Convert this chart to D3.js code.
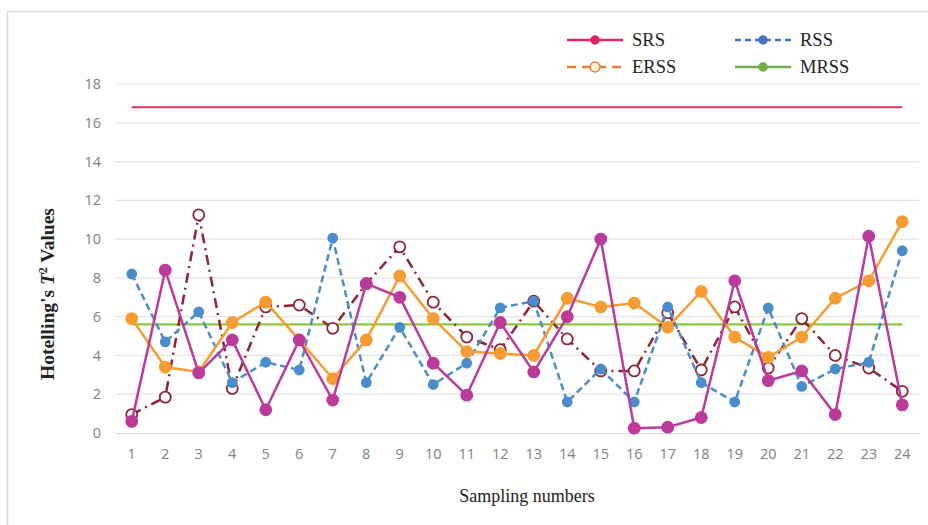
<!DOCTYPE html>
<html><head><meta charset="utf-8">
<script src="https://cdn.jsdelivr.net/npm/d3@7"></script>
<style>body{margin:0;background:#fff}</style>
</head><body>
<svg id="c" width="928" height="525"></svg>
<script>
const samples = d3.range(1, 25);
const yTicks = [0, 2, 4, 6, 8, 10, 12, 14, 16, 18];
const srsLevel = 16.8;
const mrssLevel = 5.6;
const magentaVals = [0.6, 8.4, 3.1, 4.8, 1.2, 4.8, 1.7, 7.7, 7.0, 3.6, 1.95, 5.7, 3.15, 6.0, 10.0, 0.25, 0.3, 0.8, 7.85, 2.7, 3.2, 0.95, 10.15, 1.45];
const blueVals = [8.2, 4.7, 6.25, 2.6, 3.65, 3.25, 10.05, 2.6, 5.45, 2.5, 3.6, 6.45, 6.8, 1.6, 3.3, 1.6, 6.5, 2.6, 1.6, 6.45, 2.4, 3.3, 3.65, 9.4];
const orangeVals = [5.9, 3.4, 3.15, 5.7, 6.75, 4.8, 2.8, 4.8, 8.1, 5.9, 4.2, 4.1, 4.0, 6.95, 6.5, 6.7, 5.45, 7.3, 4.95, 3.9, 4.95, 6.95, 7.85, 10.9];
const maroonVals = [0.95, 1.85, 11.25, 2.3, 6.5, 6.6, 5.4, 7.7, 9.6, 6.75, 4.95, 4.3, 6.8, 4.85, 3.2, 3.2, 6.2, 3.25, 6.5, 3.35, 5.9, 4.0, 3.35, 2.15];
const legendNames = ["SRS", "RSS", "ERSS", "MRSS"];

const svg = d3.select("#c");
// frame
svg.append("rect").attr("x", 7.5).attr("y", 11.5).attr("width", 940).attr("height", 530)
  .attr("fill", "#fff").attr("stroke", "#d9d9d9").attr("stroke-width", 1.5);

const x = d3.scaleBand().domain(samples).range([115, 919]);
const y = d3.scaleLinear().domain([0, 18]).range([433, 84]);
const cx = d => x(d) + x.bandwidth() / 2;

// gridlines
svg.append("g").selectAll("line").data(yTicks.filter(t => t > 0)).join("line")
  .attr("x1", 115).attr("x2", 919).attr("y1", d => y(d)).attr("y2", d => y(d))
  .attr("stroke", "#e3e3e3").attr("stroke-width", 1.2);

// axes
const yAxis = d3.axisLeft(y).tickValues(yTicks).tickSize(0).tickPadding(14);
const gy = svg.append("g").attr("transform", "translate(115,0)").call(yAxis);
gy.select(".domain").remove();
gy.selectAll("text").attr("font-family", "'Open Sans', sans-serif").attr("font-size", 14.5).attr("fill", "#808080");

const xAxis = d3.axisBottom(x).tickSize(0).tickPadding(16);
const gx = svg.append("g").attr("transform", "translate(0,433)").call(xAxis);
gx.select(".domain").attr("stroke", "#d9d9d9").attr("stroke-width", 1.2);
gx.selectAll("text").attr("font-family", "'Open Sans', sans-serif").attr("font-size", 14.5).attr("fill", "#808080");

// axis titles
svg.append("text").attr("transform", "translate(54,294) rotate(-90)")
  .attr("text-anchor", "middle").attr("font-family", "'Liberation Serif', serif")
  .attr("font-size", 19.5).attr("font-weight", "bold").attr("fill", "#222")
  .html("Hotelling's <tspan font-style='italic'>T</tspan><tspan font-size='12' dy='-7'>2</tspan><tspan dy='7'> Values</tspan>");
svg.append("text").attr("x", 527).attr("y", 502).attr("text-anchor", "middle")
  .attr("font-family", "'Liberation Serif', serif").attr("font-size", 18).attr("fill", "#222")
  .text("Sampling numbers");

// horizontal reference lines
const hline = (v, color) => svg.append("line").attr("x1", cx(1)).attr("x2", cx(24))
  .attr("y1", y(v)).attr("y2", y(v)).attr("stroke", color).attr("stroke-width", 2.2);
hline(srsLevel, "#e0305a");
hline(mrssLevel, "#8cc63f");

const line = d3.line().x((d, i) => cx(samples[i])).y(d => y(d));
function series(vals, color, dash, fill, stroke, r) {
  svg.append("path").datum(vals).attr("d", line).attr("fill", "none")
    .attr("stroke", color).attr("stroke-width", 2.5).attr("stroke-dasharray", dash);
  svg.append("g").selectAll("circle").data(vals).join("circle")
    .attr("cx", (d, i) => cx(samples[i])).attr("cy", d => y(d)).attr("r", r)
    .attr("fill", fill).attr("stroke", stroke).attr("stroke-width", 1.8);
}
series(maroonVals, "#8b2535", "10,5,2,5", "#fff", "#8b2535", 5.5);
series(blueVals, "#4a8ccc", "7,4", "#4a8ccc", "#4a8ccc", 4.5);
series(orangeVals, "#f59d32", null, "#f59d32", "#f59d32", 5.5);
series(magentaVals, "#bb3a9c", null, "#bb3a9c", "#bb3a9c", 5.5);

// legend
const leg = [
  {name: legendNames[0], x: 567, y: 40, color: "#e0245e", dash: null, fill: "#e0245e"},
  {name: legendNames[1], x: 735, y: 40, color: "#4472c4", dash: "6,4", fill: "#4472c4"},
  {name: legendNames[2], x: 567, y: 67, color: "#ed7d31", dash: "9,6", fill: "#fff2cc"},
  {name: legendNames[3], x: 735, y: 67, color: "#70ad47", dash: null, fill: "#70ad47"}
];
const lg = svg.append("g").selectAll("g").data(leg).join("g");
lg.append("line").attr("x1", d => d.x).attr("x2", d => d.x + 56).attr("y1", d => d.y).attr("y2", d => d.y)
  .attr("stroke", d => d.color).attr("stroke-width", 2.5).attr("stroke-dasharray", d => d.dash);
lg.append("circle").attr("cx", d => d.x + 28).attr("cy", d => d.y).attr("r", d => d.name === "ERSS" ? 5 : 4)
  .attr("fill", d => d.fill).attr("stroke", d => d.color).attr("stroke-width", 1.5);
lg.append("text").attr("x", d => d.x + 65).attr("y", d => d.y + 6)
  .attr("font-family", "'Liberation Serif', serif").attr("font-size", 18.5).attr("fill", "#222")
  .text(d => d.name);
</script>
</body></html>
